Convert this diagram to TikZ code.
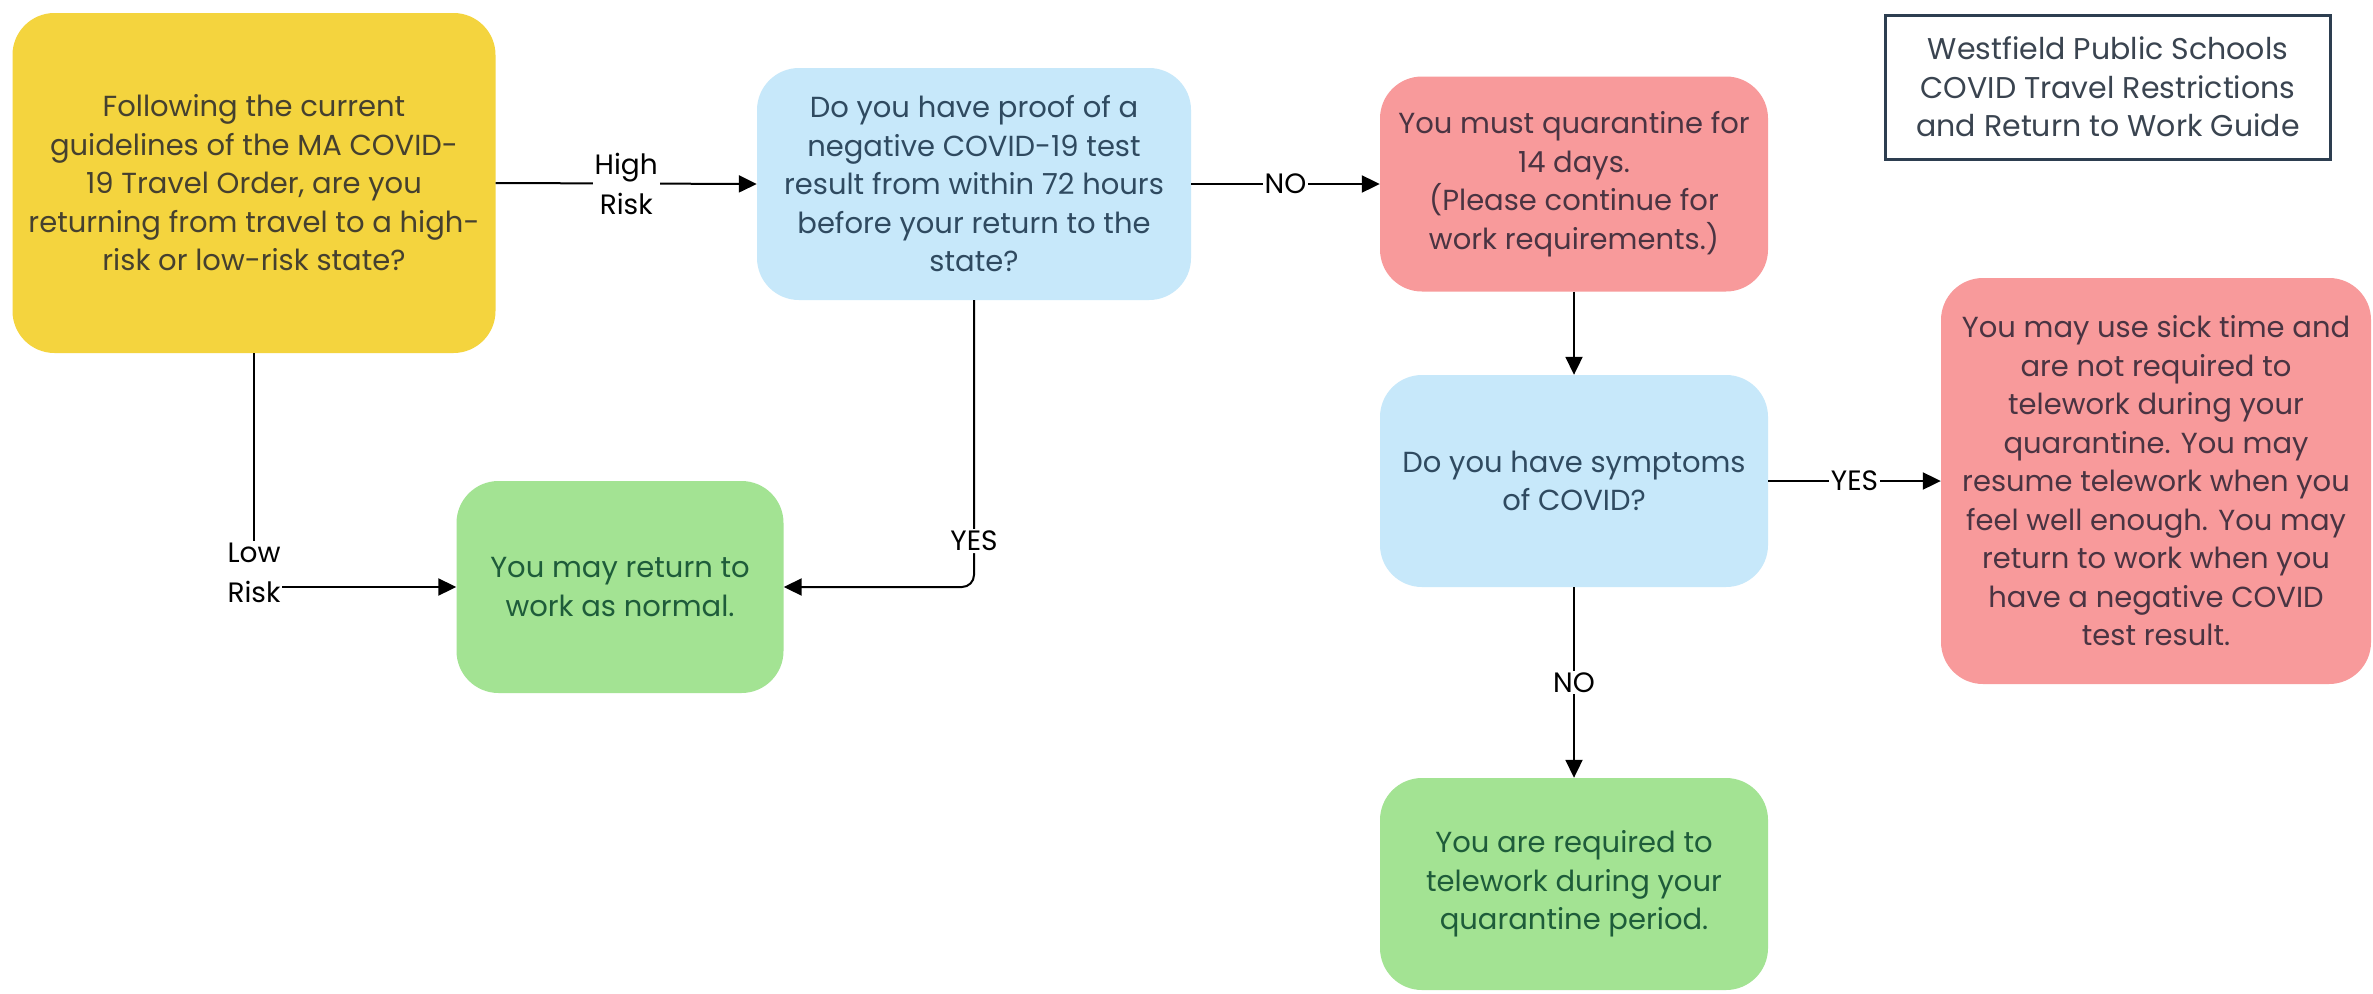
\documentclass[tikz,border=0pt]{standalone}
\usepackage{fontspec}
\setmainfont{Poppins}
\usetikzlibrary{arrows.meta}
\definecolor{yelfill}{HTML}{F4D43E}
\definecolor{yeltext}{HTML}{45402F}
\definecolor{bluefill}{HTML}{C7E8FA}
\definecolor{bluetext}{HTML}{2F4A60}
\definecolor{redfill}{HTML}{F89A9B}
\definecolor{redtext}{HTML}{4A3442}
\definecolor{greenfill}{HTML}{A3E393}
\definecolor{greentext}{HTML}{1E5C3A}
\definecolor{titleline}{HTML}{2D3E50}
\definecolor{titletext}{HTML}{3A4450}
\tikzset{
  box/.style={rectangle, rounded corners=42pt, align=center, inner sep=0pt,
    font=\fontsize{29}{38.5}\selectfont},
  yelbox/.style={box, fill=yelfill, text=yeltext},
  bluebox/.style={box, fill=bluefill, text=bluetext},
  redbox/.style={box, fill=redfill, text=redtext},
  greenbox/.style={box, fill=greenfill, text=greentext},
  titlebox/.style={rectangle, draw=titleline, line width=3pt, fill=white, align=center,
    text=titletext, font=\fontsize{30}{38.5}\selectfont},
  conn/.style={line width=2pt, draw=black, -{Triangle[length=18pt,width=17pt]}},
  lbl/.style={fill=white, inner sep=2pt, align=center, text=black,
    font=\fontsize{28}{40}\selectfont},
}
\begin{document}
\begin{tikzpicture}[x=1pt,y=-1pt]
\useasboundingbox (0,0) rectangle (2373,993);
\fill[white] (0,0) rectangle (2373,993);

\node[yelbox, minimum width=483pt, minimum height=340pt] (yel) at (254,183)
  {Following the current\\guidelines of the MA COVID-\\19 Travel Order, are you\\returning from travel to a high-\\risk or low-risk state?};
\node[bluebox, minimum width=434pt, minimum height=232pt] (b1) at (974,184)
  {Do you have proof of a\\negative COVID-19 test\\result from within 72 hours\\before your return to the\\state?};
\node[redbox, minimum width=388pt, minimum height=215pt] (r1) at (1574,184)
  {You must quarantine for\\14 days.\\(Please continue for\\work requirements.)};
\node[titlebox, minimum width=445pt, minimum height=144pt] (title) at (2108,87)
  {Westfield Public Schools\\COVID Travel Restrictions\\and Return to Work Guide};
\node[bluebox, minimum width=388pt, minimum height=212pt] (b2) at (1574,481)
  {Do you have symptoms\\of COVID?};
\node[redbox, minimum width=430pt, minimum height=406pt] (r2) at (2156,481)
  {You may use sick time and\\are not required to\\telework during your\\quarantine. You may\\resume telework when you\\feel well enough. You may\\return to work when you\\have a negative COVID\\test result.};
\node[greenbox, minimum width=327pt, minimum height=212pt] (g1) at (620,587)
  {You may return to\\work as normal.};
\node[greenbox, minimum width=388pt, minimum height=212pt] (g2) at (1574,884)
  {You are required to\\telework during your\\quarantine period.};

\draw[conn] (yel.east) -- node[lbl] {High\\Risk} (b1.west);
\draw[conn] (b1.east) -- node[lbl] {NO} (r1.west);
\draw[conn] (r1.south) -- (b2.north);
\draw[conn] (b2.east) -- node[lbl] {YES} (r2.west);
\draw[conn] (b2.south) -- node[lbl] {NO} (g2.north);
\draw[conn] (yel.south) |- node[lbl, pos=0.5, yshift=14pt] {Low\\Risk} (g1.west);
\draw[conn, rounded corners=12pt] (b1.south) |- node[lbl, pos=0.42] {YES} (g1.east);
\end{tikzpicture}
\end{document}
